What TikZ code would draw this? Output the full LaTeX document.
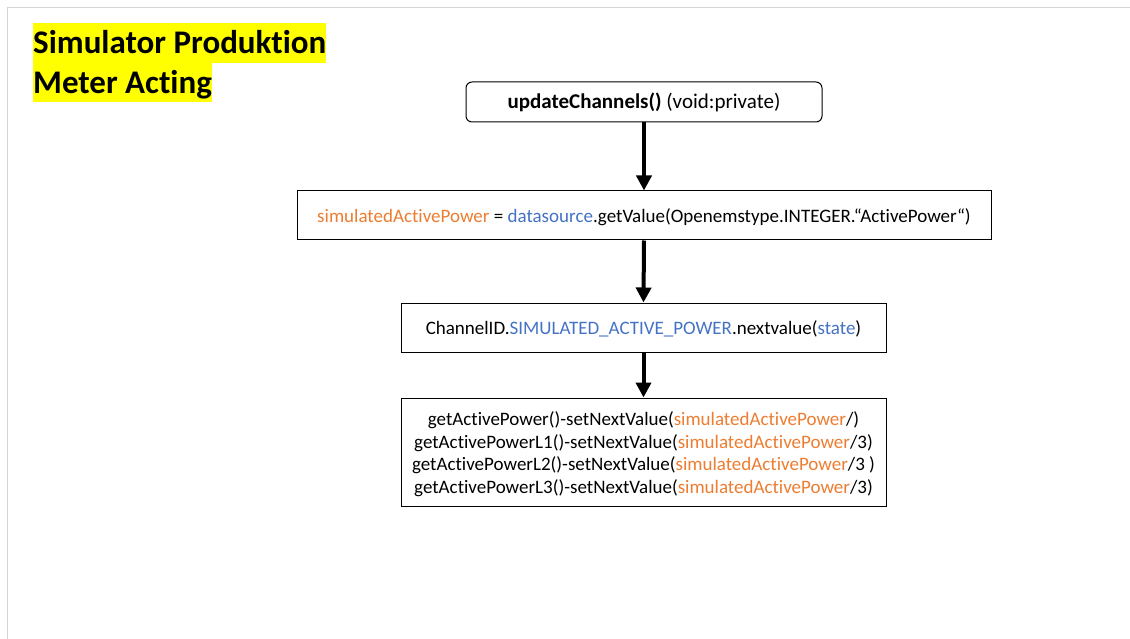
\documentclass[tikz,border=0pt]{standalone}
\usepackage{fontspec}
\setmainfont{Carlito}[Ligatures=NoCommon]
\usetikzlibrary{arrows.meta,positioning}
\definecolor{codeorange}{HTML}{ED7D31}
\definecolor{codeblue}{HTML}{4472C4}
\definecolor{marker}{HTML}{FFFF00}
\definecolor{rahmen}{HTML}{D4D4D4}
\newcommand{\ov}[1]{\textcolor{codeorange}{#1}}
\newcommand{\bv}[1]{\textcolor{codeblue}{#1}}
\tikzset{
  schritt/.style={draw=black, line width=1pt, fill=white, minimum height=49pt,
    inner xsep=6pt, font=\fontsize{19}{22.7}\selectfont, align=center},
  einzeilig/.style={text height=16.5pt, text depth=3pt},
  pfeil/.style={-{Triangle[width=15pt,length=15pt]}, line width=4pt},
  titel/.style={fill=marker, inner xsep=0pt, inner ysep=0pt, minimum height=40pt,
    text height=24pt, text depth=2pt,
    anchor=west, font=\fontsize{33}{40}\selectfont\bfseries}
}
\begin{document}
\begin{tikzpicture}[x=1pt, y=-1pt]
  \useasboundingbox (0,0) rectangle (1130,639);
  % rahmen
  \draw [rahmen, line width=1pt] (7,639) -- (7,8) -- (1130,8);
  % titel
  \node [titel] (titleA) at (33,43) {Simulator Produktion};
  \node [titel] (titleB) at (33,82.5) {Meter Acting};
  % kaesten
  \node [schritt, einzeilig, rounded corners=6pt, minimum width=356pt, minimum height=40pt,
    font=\fontsize{21}{25}\selectfont]
    (update) at (644,102) {\textbf{updateChannels()} (void:private)};
  \node [schritt, einzeilig, minimum width=694pt] (simpower) at (644,215.5)
    {\ov{simulatedActivePower} = \bv{datasource}.getValue(Openemstype.INTEGER.“ActivePower“)};
  \node [schritt, einzeilig, minimum width=485pt] (channel) at (643.5,327.5)
    {ChannelID.\bv{SIMULATED\_ACTIVE\_POWER}.nextvalue(\bv{state})};
  \node [schritt, minimum width=485pt, minimum height=108pt] (setvalue) at (643.5,452)
    {\rule{0pt}{18pt}getActivePower()-setNextValue(\ov{simulatedActivePower}/)\\
     getActivePowerL1()-setNextValue(\ov{simulatedActivePower}/3)\\
     getActivePowerL2()-setNextValue(\ov{simulatedActivePower}/3 )\\
     getActivePowerL3()-setNextValue(\ov{simulatedActivePower}/3)};
  % pfeile
  \draw [pfeil] (update.south) -- (simpower.north);
  \draw [pfeil] (simpower.south) -- (channel.north);
  \draw [pfeil] (channel.south) -- (setvalue.north);
\end{tikzpicture}
\end{document}
